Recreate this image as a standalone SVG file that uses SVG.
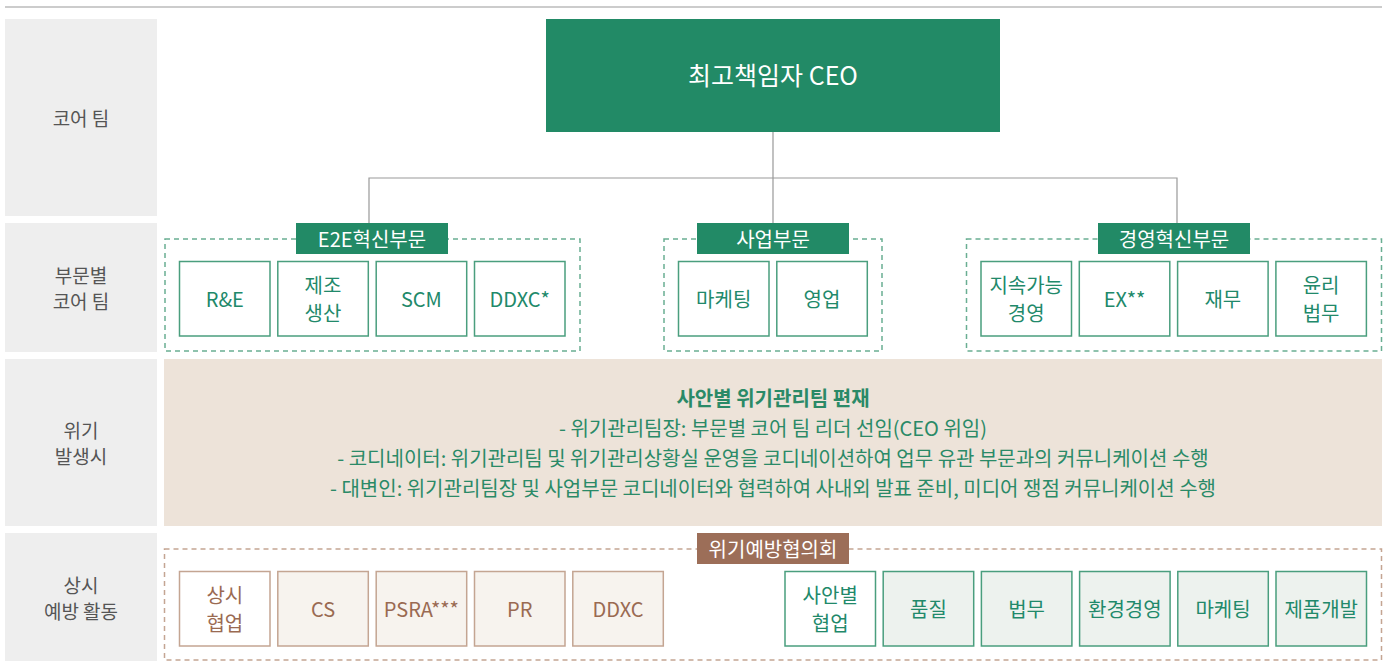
<svg xmlns="http://www.w3.org/2000/svg" width="1388" height="661" viewBox="0 0 1388 661">
<style>
text{font-family:"Noto Sans CJK KR","Noto Sans",sans-serif;text-anchor:middle;dominant-baseline:central}
.side{fill:#eeeeee}
.sidet{fill:#555;font-size:19px}
.gbox{fill:#fff;stroke:#4a9e7e;stroke-width:1.5}
.gfill{fill:#edf2ee;stroke:#4a9e7e;stroke-width:1.5}
.gt{fill:#21896a;font-size:20px}
.bbox{fill:#fff;stroke:#c4a592;stroke-width:1.5}
.bfill{fill:#f7f3ee;stroke:#c4a592;stroke-width:1.5}
.bt{fill:#9a6a52;font-size:20px}
.glab{fill:#228a66}
.blab{fill:#9c6e58}
.labt{fill:#fff;font-size:20px}
.gdash{fill:none;stroke:#6aae92;stroke-width:1.5;stroke-dasharray:5 4}
.bdash{fill:none;stroke:#c4a592;stroke-width:1.5;stroke-dasharray:5 4}
.ct{fill:#2a8a67;font-size:20px}
</style>
<line x1="5" y1="7" x2="1382" y2="7" stroke="#999" stroke-width="1.2"/>
<g id="side-labels">
<rect class="side" x="5" y="19" width="152" height="197"/>
<text class="sidet" x="81" y="117">코어 팀</text>
<rect class="side" x="5" y="223" width="152" height="129"/>
<text class="sidet" x="81" y="274">부문별</text>
<text class="sidet" x="81" y="300">코어 팀</text>
<rect class="side" x="5" y="359" width="152" height="167"/>
<text class="sidet" x="81" y="429">위기</text>
<text class="sidet" x="81" y="455">발생시</text>
<rect class="side" x="5" y="533" width="152" height="128"/>
<text class="sidet" x="81" y="584">상시</text>
<text class="sidet" x="81" y="610">예방 활동</text>
</g>
<g id="connectors" fill="none" stroke="#999" stroke-width="1.2">
<path d="M773 132V178M369 223V178H1177V223M773 178V223"/>
</g>
<g id="ceo">
<rect x="546" y="19" width="454" height="113" fill="#228a66"/>
<text x="773" y="74" fill="#fff" font-size="25">최고책임자 CEO</text>
</g>
<g id="e2e">
<rect class="gdash" x="165" y="239" width="415" height="112"/>
<rect class="glab" x="296" y="223" width="152" height="31"/>
<text class="labt" x="372" y="238">E2E혁신부문</text>
<rect class="gbox" x="179.5" y="261.5" width="90.5" height="74.5"/>
<text class="gt" x="224.8" y="298.5">R&amp;E</text>
<rect class="gbox" x="277.8" y="261.5" width="90.5" height="74.5"/>
<text class="gt" x="323" y="284">제조</text>
<text class="gt" x="323" y="312">생산</text>
<rect class="gbox" x="376.2" y="261.5" width="90.5" height="74.5"/>
<text class="gt" x="421.4" y="298.5">SCM</text>
<rect class="gbox" x="474.5" y="261.5" width="90.5" height="74.5"/>
<text class="gt" x="519.7" y="298.5">DDXC*</text>
</g>
<g id="business">
<rect class="gdash" x="664" y="239" width="218" height="112"/>
<rect class="glab" x="697" y="223" width="152" height="31"/>
<text class="labt" x="773" y="238">사업부문</text>
<rect class="gbox" x="678.5" y="261.5" width="90.5" height="74.5"/>
<text class="gt" x="723.7" y="298.5">마케팅</text>
<rect class="gbox" x="776.8" y="261.5" width="90.5" height="74.5"/>
<text class="gt" x="822" y="298.5">영업</text>
</g>
<g id="mgmt">
<rect class="gdash" x="966.5" y="239" width="415" height="112"/>
<rect class="glab" x="1098" y="223" width="152" height="31"/>
<text class="labt" x="1174" y="238">경영혁신부문</text>
<rect class="gbox" x="981" y="261.5" width="90.5" height="74.5"/>
<text class="gt" x="1026.2" y="284">지속가능</text>
<text class="gt" x="1026.2" y="312">경영</text>
<rect class="gbox" x="1079.3" y="261.5" width="90.5" height="74.5"/>
<text class="gt" x="1124.5" y="298.5">EX**</text>
<rect class="gbox" x="1177.6" y="261.5" width="90.5" height="74.5"/>
<text class="gt" x="1222.8" y="298.5">재무</text>
<rect class="gbox" x="1275.9" y="261.5" width="90.5" height="74.5"/>
<text class="gt" x="1321.1" y="284">윤리</text>
<text class="gt" x="1321.1" y="312">법무</text>
</g>
<g id="crisis">
<rect x="164" y="359" width="1218" height="167" fill="#ede3d9"/>
<text class="ct" x="773" y="397" font-weight="bold">사안별 위기관리팀 편재</text>
<text class="ct" x="773" y="427">- 위기관리팀장: 부문별 코어 팀 리더 선임(CEO 위임)</text>
<text class="ct" x="773" y="457">- 코디네이터: 위기관리팀 및 위기관리상황실 운영을 코디네이션하여 업무 유관 부문과의 커뮤니케이션 수행</text>
<text class="ct" x="773" y="487">- 대변인: 위기관리팀장 및 사업부문 코디네이터와 협력하여 사내외 발표 준비, 미디어 쟁점 커뮤니케이션 수행</text>
</g>
<g id="prevention">
<rect class="bdash" x="164.5" y="549" width="1217" height="111"/>
<rect class="blab" x="697" y="533" width="152" height="31"/>
<text class="labt" x="773" y="548">위기예방협의회</text>
<rect class="bbox" x="179.5" y="571.5" width="90.5" height="74.5"/>
<text class="bt" x="224.8" y="594">상시</text>
<text class="bt" x="224.8" y="622">협업</text>
<rect class="bfill" x="277.8" y="571.5" width="90.5" height="74.5"/>
<text class="bt" x="323" y="608.5">CS</text>
<rect class="bfill" x="376.2" y="571.5" width="90.5" height="74.5"/>
<text class="bt" x="421.4" y="608.5">PSRA***</text>
<rect class="bfill" x="474.5" y="571.5" width="90.5" height="74.5"/>
<text class="bt" x="519.7" y="608.5">PR</text>
<rect class="bfill" x="572.8" y="571.5" width="90.5" height="74.5"/>
<text class="bt" x="618" y="608.5">DDXC</text>
<rect class="gbox" x="785" y="571.5" width="90.5" height="74.5"/>
<text class="gt" x="830.2" y="594">사안별</text>
<text class="gt" x="830.2" y="622">협업</text>
<rect class="gfill" x="883.2" y="571.5" width="90.5" height="74.5"/>
<text class="gt" x="928.4" y="608.5">품질</text>
<rect class="gfill" x="981.4" y="571.5" width="90.5" height="74.5"/>
<text class="gt" x="1026.6" y="608.5">법무</text>
<rect class="gfill" x="1079.6" y="571.5" width="90.5" height="74.5"/>
<text class="gt" x="1124.8" y="608.5">환경경영</text>
<rect class="gfill" x="1177.8" y="571.5" width="90.5" height="74.5"/>
<text class="gt" x="1223" y="608.5">마케팅</text>
<rect class="gfill" x="1276" y="571.5" width="90.5" height="74.5"/>
<text class="gt" x="1321.2" y="608.5">제품개발</text>
</g>
</svg>
